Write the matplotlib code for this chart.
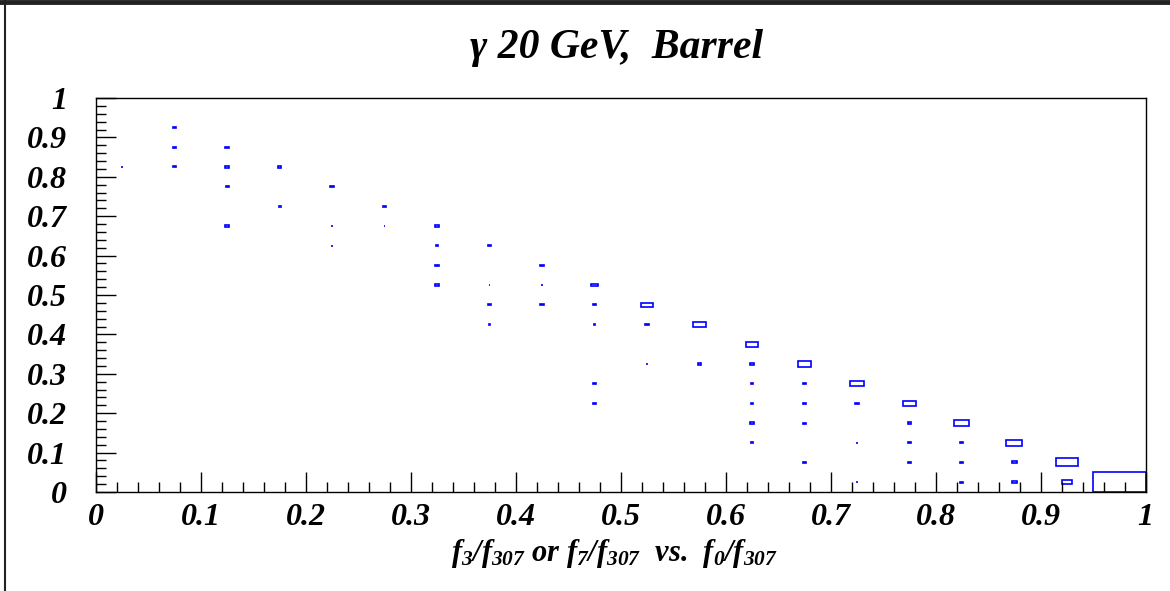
import numpy as np
import matplotlib
matplotlib.use('Agg')
import matplotlib.pyplot as plt
from matplotlib.patches import Rectangle
from matplotlib.lines import Line2D
from matplotlib.ticker import MultipleLocator

plt.rcParams['font.family'] = ['Liberation Serif', 'DejaVu Serif']
plt.rcParams['mathtext.fontset'] = 'custom'
plt.rcParams['mathtext.rm'] = 'Liberation Serif:bold:italic'
plt.rcParams['mathtext.it'] = 'Liberation Serif:bold:italic'
plt.rcParams['mathtext.bf'] = 'Liberation Serif:bold:italic'

# 2D histogram, 20 x 20 bins on [0,1] x [0,1]; bin centres and contents
binWidth = 0.05
xCentres = [0.025,
            0.075, 0.075, 0.075,
            0.125, 0.125, 0.125, 0.125,
            0.175, 0.175,
            0.225, 0.225, 0.225,
            0.275, 0.275,
            0.325, 0.325, 0.325, 0.325,
            0.375, 0.375, 0.375, 0.375,
            0.425, 0.425, 0.425,
            0.475, 0.475, 0.475, 0.475, 0.475,
            0.525, 0.525, 0.525,
            0.575, 0.575,
            0.625, 0.625, 0.625, 0.625, 0.625, 0.625,
            0.675, 0.675, 0.675, 0.675, 0.675,
            0.725, 0.725, 0.725, 0.725,
            0.775, 0.775, 0.775, 0.775,
            0.825, 0.825, 0.825, 0.825,
            0.875, 0.875, 0.875,
            0.925, 0.925,
            0.975]
yCentres = [0.825,
            0.925, 0.875, 0.825,
            0.875, 0.825, 0.775, 0.675,
            0.825, 0.725,
            0.775, 0.675, 0.625,
            0.725, 0.675,
            0.675, 0.625, 0.575, 0.525,
            0.625, 0.525, 0.475, 0.425,
            0.575, 0.525, 0.475,
            0.525, 0.475, 0.425, 0.275, 0.225,
            0.475, 0.425, 0.325,
            0.425, 0.325,
            0.375, 0.325, 0.275, 0.225, 0.175, 0.125,
            0.325, 0.275, 0.225, 0.175, 0.075,
            0.275, 0.225, 0.125, 0.025,
            0.225, 0.175, 0.125, 0.075,
            0.175, 0.125, 0.075, 0.025,
            0.125, 0.075, 0.025,
            0.075, 0.025,
            0.025]
counts = [3,
          4, 4, 4,
          8, 8, 6, 8,
          6, 3,
          8, 1, 1,
          8, 1,
          7, 2, 7, 7,
          8, 1, 6, 1,
          8, 1, 6,
          27, 5, 1, 3, 3,
          77, 8, 1,
          88, 6,
          85, 8, 4, 3, 6, 3,
          108, 8, 6, 4, 4,
          117, 7, 1, 1,
          100, 6, 4, 4,
          135, 6, 6, 6,
          149, 16, 12,
          269, 55,
          1600]

xTicks = [0, 0.1, 0.2, 0.3, 0.4, 0.5, 0.6, 0.7, 0.8, 0.9, 1]
tickLabels = ['0', '0.1', '0.2', '0.3', '0.4', '0.5', '0.6', '0.7', '0.8', '0.9', '1']

fig = plt.figure(figsize=(11.70, 5.91), dpi=100)
ax = fig.add_axes([96 / 1170., 1 - 492 / 591., (1145.5 - 96) / 1170., (492 - 98) / 591.])

# ROOT "box" style: box side scales with sqrt(content / max)
cmax = float(max(counts))
for xc, yc, c in zip(xCentres, yCentres, counts):
    ratio = np.sqrt(c / cmax)
    w = binWidth * ratio
    ax.add_patch(Rectangle((xc - w / 2, yc - w / 2), w, w, fill=False,
                           edgecolor='#0000ff', linewidth=1.2))

ax.set_xlim(0, 1)
ax.set_ylim(0, 1)
ax.set_xticks(xTicks)
ax.set_xticklabels(tickLabels)
ax.set_yticks(xTicks)
ax.set_yticklabels(tickLabels)
ax.xaxis.set_minor_locator(MultipleLocator(0.02))
ax.yaxis.set_minor_locator(MultipleLocator(0.02))
ax.tick_params(which='both', direction='in', top=False, right=False, width=1.0,
               labelsize=23)
ax.tick_params(which='major', length=14.4)
ax.tick_params(which='minor', length=7.2)
ax.tick_params(axis='x', which='major', pad=8)
ax.tick_params(axis='y', which='major', pad=21)
for lab in ax.get_xticklabels() + ax.get_yticklabels():
    lab.set_fontweight('bold')
    lab.set_fontstyle('italic')
for sp in ax.spines.values():
    sp.set_linewidth(1.0)

fig.text(617 / 1170., 1 - 48 / 591., u'\u03b3 20 GeV,  Barrel', ha='center', va='center',
         fontsize=30, fontweight='bold', fontstyle='italic')
fig.text(614 / 1170., 1 - 553 / 591.,
         r'$f_3/f_{307}$ or $f_7/f_{307}$  vs.  $f_0/f_{307}$',
         ha='center', va='center', fontsize=22, fontweight='bold', fontstyle='italic')

# canvas border (top and left edges)
fig.add_artist(Line2D([0, 1], [1 - 2 / 591., 1 - 2 / 591.], transform=fig.transFigure,
                      color='#222222', linewidth=3.5))
fig.add_artist(Line2D([5 / 1170., 5 / 1170.], [0, 1], transform=fig.transFigure,
                      color='#222222', linewidth=1.5))

fig.savefig('out.png', dpi=100)
